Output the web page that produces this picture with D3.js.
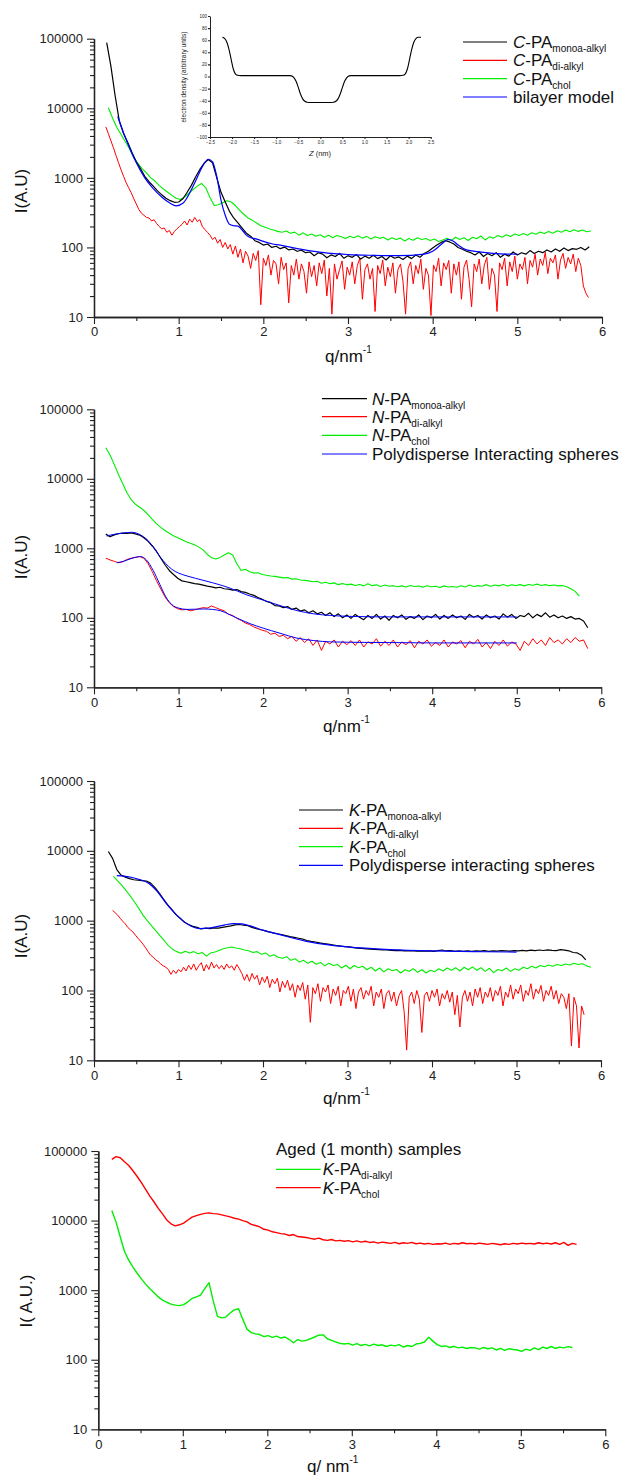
<!DOCTYPE html>
<html>
<head>
<meta charset="utf-8">
<script src="https://cdn.jsdelivr.net/npm/d3@7"></script>
<style>
body { margin: 0; background: #fff; }
text { font-family: "Liberation Sans", Arial, sans-serif; }
</style>
</head>
<body>
<svg id="chart" width="628" height="1477"></svg>
<script>
var qStep = 0.05;
var qStepFine = 0.03;

var yTicks = [10, 100, 1000, 10000, 100000];
var xTicks = [0, 1, 2, 3, 4, 5, 6];
var xMinor = [0.5, 1.5, 2.5, 3.5, 4.5, 5.5];

// ---------- panel 1 : C-PA ----------
var cMonoStart = 0.15;
var cMono = [88000,40000,15000,6500,4300,3200,2300,1700,1350,1050,
  880,760,650,570,510,470,445,450,500,620,
  780,1030,1320,1620,1830,1650,1000,620,450,330,
  265,225,190,160,145,125,118,108,112,100,
  104,96,101,92,95,88,91,84,86,76,
  84,80,71,78,74,82,70,76,72,79,
  68,75,70,77,69,74,66,76,70,73,
  67,75,69,78,72,82,88,98,108,118,
  125,120,112,100,94,88,84,78,86,74,
  82,76,84,72,80,75,86,78,84,80,
  90,82,88,84,92,86,95,88,98,90,
  96,94,100,92,102];
// fine grid (0.03)
var cDiStart = 0.14;
var cDi = [5400,4300,3400,2700,2100,1650,1300,1050,850,720,
  610,500,420,350,310,290,270,265,240,250,
  220,200,185,190,165,175,150,170,185,200,
  215,240,210,255,230,270,235,250,200,180,
  165,150,130,140,115,130,100,118,95,110,
  80,105,72,95,60,88,75,50,82,65,
  90,15,70,55,78,40,65,58,30,72,
  48,60,16,55,40,68,35,58,45,22,
  62,38,55,28,60,42,66,20,50,11,
  58,35,48,64,25,52,40,62,30,55,
  70,18,48,58,35,50,12,55,42,66,
  28,52,38,60,22,48,58,32,11,50,
  62,30,55,42,68,25,50,40,10.5,56,
  45,70,28,60,48,65,22,58,40,62,
  18,52,66,35,14,58,45,68,30,56,
  72,25,50,40,12,60,48,70,28,62,
  45,75,35,58,48,72,30,65,52,80,
  40,68,55,85,42,70,60,78,35,66,
  82,50,72,58,80,45,70,55,28,22,
  19];
var cCholStart = 0.17;
var cChol = [10200,7200,5300,4200,3300,2600,1950,1600,1350,1180,
  1000,900,780,690,620,560,510,490,530,600,
  680,760,830,720,520,400,410,440,470,450,
  400,340,300,265,245,225,205,195,185,178,
  170,165,172,160,166,150,162,148,156,145,
  152,140,150,138,148,142,134,145,138,147,
  136,144,132,142,135,140,128,138,130,136,
  124,134,127,138,130,134,126,132,122,128,
  135,126,140,130,138,126,140,133,146,128,
  142,136,148,140,152,144,156,148,158,150,
  162,155,166,158,170,160,174,165,178,168,
  180,170,178,168,172];
var cBilayer = [[0.28,7600],[0.35,4400],[0.4,3100],[0.5,1650],[0.6,1000],[0.7,700],[0.8,530],
  [0.9,430],[0.97,395],[1.05,430],[1.1,520],[1.2,900],[1.28,1450],[1.35,1850],[1.4,1700],
  [1.45,1050],[1.5,480],[1.55,290],[1.6,215],[1.65,205],[1.7,202],[1.75,178],[1.8,150],
  [1.85,138],[1.9,134],[2.0,122],[2.1,113],[2.2,108],[2.4,96],[2.6,88],[2.8,82],[3.0,79],
  [3.3,77],[3.6,76],[3.9,80],[4.0,88],[4.1,110],[4.18,130],[4.25,122],[4.3,108],[4.4,92],
  [4.6,85],[4.8,81],[5.0,80]];
var p1Labels = [
  {color: "#000", it: "C", sub: "monoa-alkyl"},
  {color: "#ff0000", it: "C", sub: "di-alkyl"},
  {color: "#00ee00", it: "C", sub: "chol"},
  {color: "#0000ff", label: "bilayer model"}];

// inset: electron density profile
var zProfile = [[-2.22,65],[-2.17,63],[-2.12,57],[-2.07,45],[-2.02,28],[-1.97,12],[-1.92,4],
  [-1.87,2],[-1.8,1.5],[-0.7,1.5],[-0.65,1],[-0.6,-2],[-0.55,-8],[-0.5,-18],[-0.45,-29],
  [-0.4,-37],[-0.35,-41],[-0.3,-42.5],[-0.2,-43],[0.2,-43],[0.3,-42.5],[0.35,-41],[0.4,-37],
  [0.45,-29],[0.5,-18],[0.55,-8],[0.6,-2],[0.65,1],[0.7,1.5],[1.8,1.5],[1.87,2],[1.92,4],
  [1.97,12],[2.02,28],[2.07,45],[2.12,57],[2.17,63],[2.22,65],[2.28,65]];
var zTicks = [-2.5,-2,-1.5,-1,-0.5,0,0.5,1,1.5,2,2.5];
var rhoTicks = [-100,-80,-60,-40,-20,0,20,40,60,80,100];

// ---------- panel 2 : N-PA ----------
var nMonoStart = 0.14;
var nMono = [1600,1470,1560,1620,1650,1640,1660,1610,1550,1420,
  1260,1080,900,720,580,480,420,370,340,330,
  320,310,305,295,285,278,270,275,262,258,
  250,255,238,232,220,210,196,185,172,165,
  150,148,140,145,132,138,125,130,118,126,
  114,120,108,118,104,114,100,110,98,112,
  102,94,108,98,112,96,106,92,108,100,
  110,95,104,98,110,94,106,100,112,96,
  108,98,110,100,106,95,112,102,108,96,
  110,100,106,96,114,102,112,98,108,104,
  116,100,112,104,118,102,110,100,106,98,
  104,96,98,90,72];
var nDiStart = 0.14;
var nDi = [720,680,650,620,640,690,720,740,760,720,
  600,460,340,260,200,165,145,135,130,132,
  126,130,135,140,138,148,140,132,126,112,
  108,98,92,84,80,74,70,66,64,58,
  60,54,56,50,54,46,52,44,50,40,
  48,34,46,42,48,38,46,41,47,40,
  48,38,45,42,50,39,46,40,48,38,
  45,41,47,37,46,42,48,39,44,40,
  48,38,45,42,47,37,46,42,49,38,
  44,36,46,40,48,39,45,42,34,46,
  40,50,42,48,40,52,44,48,42,50,
  44,52,46,48,36];
var nCholStart = 0.14;
var nChol = [28000,22000,16000,11500,8500,6300,5000,4300,3900,3500,
  3050,2600,2250,2000,1800,1650,1520,1420,1330,1240,
  1180,1120,1040,950,820,730,700,740,800,860,
  800,600,480,500,460,440,445,420,410,400,
  395,385,375,380,360,365,350,345,340,330,
  335,315,325,310,318,300,312,298,305,292,
  302,288,310,290,298,282,296,285,290,280,
  288,278,292,282,286,276,290,280,284,272,
  288,278,282,275,290,278,296,282,290,285,
  300,284,296,288,302,286,298,292,300,288,
  302,294,305,292,300,290,296,288,292,280,
  262,240,205];
var nFitMono = [[0.15,1500],[0.25,1600],[0.35,1660],[0.45,1700],[0.55,1560],[0.62,1360],
  [0.7,1050],[0.78,760],[0.85,600],[0.92,500],[1.0,440],[1.1,400],[1.2,370],[1.4,320],
  [1.6,270],[1.8,215],[2.0,180],[2.2,150],[2.4,127],[2.6,114],[2.8,108],[3.0,105],
  [3.5,103],[4.0,103],[4.5,103],[5.0,103]];
var nFitDi = [[0.27,620],[0.35,650],[0.45,720],[0.55,760],[0.62,680],[0.7,480],[0.78,300],
  [0.85,200],[0.92,155],[1.0,138],[1.1,132],[1.2,133],[1.3,134],[1.4,132],[1.5,126],
  [1.6,112],[1.7,98],[1.85,82],[2.0,71],[2.2,60],[2.4,51],[2.6,47],[2.8,45],[3.0,44.5],
  [3.5,44],[4.0,43.5],[4.5,43.5],[5.0,43.5]];
var p2Labels = [
  {color: "#000", it: "N", sub: "monoa-alkyl"},
  {color: "#ff0000", it: "N", sub: "di-alkyl"},
  {color: "#00ee00", it: "N", sub: "chol"},
  {color: "#0000ff", label: "Polydisperse Interacting spheres"}];

// ---------- panel 3 : K-PA ----------
var kMonoStart = 0.17;
var kMono = [9800,7800,5400,4500,4200,4000,3850,3800,3750,3700,
  3450,3000,2500,2050,1700,1450,1220,1080,950,880,
  830,800,760,780,770,790,780,800,820,840,
  870,880,860,850,800,770,740,720,690,670,
  650,630,610,590,575,560,545,520,505,495,
  480,470,460,450,440,432,425,420,410,405,
  400,395,392,388,385,382,380,376,372,375,
  370,368,372,366,370,365,370,364,372,380,
  368,372,362,368,364,370,362,368,365,372,
  364,370,366,372,368,365,372,368,376,370,
  378,372,380,374,382,376,372,384,378,370,
  350,345,320,275];
// fine grid (0.03)
var kDiStart = 0.22;
var kDi = [1400,1300,1200,1080,980,900,800,740,690,620,
  560,510,460,410,360,320,300,275,260,240,
  225,215,200,170,195,175,200,185,215,190,
  230,200,240,195,225,250,190,235,200,255,
  210,235,205,228,200,240,210,225,195,235,
  205,175,140,170,135,175,145,165,120,155,
  130,160,110,145,125,150,95,135,110,140,
  100,125,80,120,100,130,75,120,35,110,
  90,125,70,110,95,120,65,105,85,115,
  60,100,90,115,70,105,55,95,110,75,
  100,85,115,60,95,80,105,55,90,100,
  70,95,60,85,100,50,14,80,95,65,
  100,75,25,85,95,70,100,80,105,60,
  90,75,100,68,95,45,85,30,80,100,
  70,95,60,105,80,110,65,95,80,110,
  70,100,85,115,60,95,80,120,75,105,
  90,120,70,100,85,125,75,105,90,118,
  70,100,85,115,75,100,65,90,80,55,
  90,16,80,60,15,60,45];
var kCholStart = 0.23;
var kChol = [4300,3700,3200,2700,2250,1850,1500,1200,1000,850,
  720,610,520,440,390,360,340,365,345,360,
  335,350,310,345,355,375,395,410,420,405,
  395,380,370,350,360,330,345,310,325,300,
  290,305,270,285,255,270,245,262,238,252,
  225,245,228,236,210,230,205,228,212,222,
  198,215,190,210,185,205,192,200,178,198,
  188,205,182,198,178,195,185,205,190,210,
  195,212,190,215,198,218,195,212,188,208,
  180,200,192,210,188,205,195,215,205,222,
  210,228,218,232,222,236,228,240,232,245,
  236,242,225,215];
var kFit = [[0.27,4400],[0.35,4350],[0.45,4150],[0.55,3850],[0.65,3400],[0.75,2600],
  [0.85,1800],[0.95,1300],[1.05,1000],[1.15,830],[1.25,770],[1.35,780],[1.45,820],
  [1.55,870],[1.65,905],[1.75,900],[1.85,840],[2.0,730],[2.2,630],[2.5,510],[2.8,445],
  [3.0,420],[3.5,385],[4.0,368],[4.5,360],[5.0,355]];
var p3Labels = [
  {color: "#000", it: "K", sub: "monoa-alkyl"},
  {color: "#ff0000", it: "K", sub: "di-alkyl"},
  {color: "#00ee00", it: "K", sub: "chol"},
  {color: "#0000ff", label: "Polydisperse interacting spheres"}];

// ---------- panel 4 : aged samples ----------
var agedCholStart = 0.16;
var agedChol = [76000,83000,80000,70000,62000,52000,43000,35000,28000,22500,
  18500,15000,12500,10200,9000,8400,8700,9200,10200,11200,
  11800,12300,12700,12900,12600,12500,12100,11700,11300,10800,
  10500,10000,9600,8800,8500,8100,7500,7300,6900,6700,
  6500,6400,6100,6300,5900,5800,5700,5550,5400,5600,
  5300,5200,5350,5100,5200,5050,5150,4950,5100,4900,
  5050,4850,4950,4750,4900,4800,4700,4850,4650,4800,
  4700,4850,4650,4750,4600,4700,4550,4650,4600,4750,
  4550,4700,4600,4800,4650,4700,4600,4750,4650,4550,
  4700,4600,4500,4650,4550,4700,4600,4750,4650,4700,
  4600,4800,4650,4750,4600,4800,4550,4850,4400,4700,
  4550];
var agedDiStart = 0.16;
var agedDi = [14000,9500,5800,3600,2700,2150,1750,1450,1220,1050,
  920,800,720,670,630,610,600,620,680,760,
  800,850,1050,1280,700,420,400,410,470,520,
  540,380,275,245,235,230,215,222,210,218,
  205,212,195,175,195,185,190,200,212,225,
  228,200,190,180,172,168,172,162,170,160,
  166,158,168,160,164,155,162,158,165,152,
  160,155,168,172,180,210,185,165,155,158,
  150,156,148,152,145,150,148,142,150,144,
  148,138,146,136,144,140,138,132,142,136,
  148,140,152,145,155,146,152,148,154,150];
var p4Title = "Aged (1 month) samples";
var p4Labels = [
  {color: "#00ee00", it: "K", sub: "di-alkyl"},
  {color: "#ff0000", it: "K", sub: "chol"}];

var svg = d3.select("#chart");
svg.append("rect").attr("width", 628).attr("height", 1477).attr("fill", "#fff");

function grid(start, step, vals) {
  return vals.map(function(v, i) { return [start + i * step, v]; });
}

function styleAxis(g, fs) {
  g.attr("font-family", "Liberation Sans, Arial, sans-serif");
  g.select(".domain").attr("stroke", "#222").attr("stroke-width", 1.3);
  g.selectAll(".tick line").attr("stroke", "#222").attr("stroke-width", 1.1);
  g.selectAll(".tick text").attr("font-size", fs).attr("fill", "#222");
}

function panel(cfg) {
  var x = d3.scaleLinear().domain([0, 6]).range([cfg.x0, cfg.x1]);
  var y = d3.scaleLog().domain([10, 100000]).range([cfg.yb, cfg.yt]);
  var g = svg.append("g");

  var yMinor = [];
  [10, 100, 1000, 10000].forEach(function(d) {
    for (var k = 2; k <= 9; k++) yMinor.push(d * k);
  });

  var xa = g.append("g").attr("transform", "translate(0," + cfg.yb + ")")
    .call(d3.axisBottom(x).tickValues(xTicks).tickFormat(d3.format("d")).tickSize(7).tickSizeOuter(0).tickPadding(3));
  styleAxis(xa, 13);
  var xm = g.append("g").attr("transform", "translate(0," + cfg.yb + ")")
    .call(d3.axisBottom(x).tickValues(xMinor).tickSize(4).tickSizeOuter(0).tickFormat(""));
  styleAxis(xm, 13);

  var ya = g.append("g").attr("transform", "translate(" + cfg.x0 + ",0)")
    .call(d3.axisLeft(y).tickValues(yTicks).tickFormat(d3.format("d")).tickSize(7).tickSizeOuter(0).tickPadding(4));
  styleAxis(ya, 13);
  var ym = g.append("g").attr("transform", "translate(" + cfg.x0 + ",0)")
    .call(d3.axisLeft(y).tickValues(yMinor).tickFormat("").tickSize(4).tickSizeOuter(0));
  styleAxis(ym, 13);

  var raw = d3.line().x(function(d) { return x(d[0]); }).y(function(d) { return y(d[1]); });
  var smooth = d3.line().x(function(d) { return x(d[0]); }).y(function(d) { return y(d[1]); })
    .curve(d3.curveMonotoneX);

  cfg.series.forEach(function(s) {
    g.append("path").datum(s.pts).attr("fill", "none").attr("stroke", s.color)
      .attr("stroke-width", s.w || 1).attr("stroke-linejoin", "round")
      .attr("d", s.fit ? smooth : raw);
  });

  // axis titles
  g.append("text").attr("transform", "translate(" + cfg.ytx + "," + cfg.yty + ") rotate(-90)")
    .attr("text-anchor", "middle").attr("font-size", 17).attr("fill", "#111").text(cfg.ytitle);
  var xt = g.append("text").attr("x", cfg.xtx).attr("y", cfg.xty).attr("font-size", 17).attr("fill", "#111");
  xt.append("tspan").text(cfg.xtitle);
  xt.append("tspan").attr("font-size", 10).attr("dy", -9).text("-1");
  return {x: x, y: y, g: g};
}

function legend(items, lx0, lx1, tx, ys) {
  items.forEach(function(d, i) {
    svg.append("line").attr("x1", lx0).attr("x2", lx1).attr("y1", ys[i]).attr("y2", ys[i])
      .attr("stroke", d.color).attr("stroke-width", 1.2);
    var t = svg.append("text").attr("x", tx).attr("y", ys[i] + 6).attr("font-size", 17).attr("fill", "#111");
    if (d.it) {
      t.append("tspan").attr("font-style", "italic").text(d.it);
      t.append("tspan").text("-PA");
      t.append("tspan").attr("font-size", 10).attr("dy", 4).text(d.sub);
    } else {
      t.text(d.label);
    }
  });
}

// panel 1
panel({
  x0: 94, x1: 602, yt: 38.7, yb: 317,
  ytx: 27, yty: 191, ytitle: "I(A.U)", xtx: 325, xty: 362, xtitle: "q/nm",
  series: [
    {pts: grid(cDiStart, qStepFine, cDi), color: "#ff0000", w: 1},
    {pts: grid(cCholStart, qStep, cChol), color: "#00ee00", w: 1.1},
    {pts: grid(cMonoStart, qStep, cMono), color: "#000", w: 1.2},
    {pts: cBilayer, color: "#0000ff", w: 1.2, fit: true}
  ]
});
legend(p1Labels, 463, 507, 513, [42, 60.3, 78.7, 97]);

// inset
(function() {
  var ix = d3.scaleLinear().domain([-2.5, 2.5]).range([210, 430.7]);
  var iy = d3.scaleLinear().domain([-100, 100]).range([137, 16]);
  var g = svg.append("g");
  var xa = g.append("g").attr("transform", "translate(0,137)")
    .call(d3.axisBottom(ix).tickValues(zTicks).tickFormat(d3.format(".1f")).tickSize(2).tickPadding(1.5).tickSizeOuter(0));
  styleAxis(xa, 4.5);
  var ya = g.append("g").attr("transform", "translate(210,0)")
    .call(d3.axisLeft(iy).tickValues(rhoTicks).tickFormat(d3.format("d")).tickSize(2).tickPadding(1).tickSizeOuter(0));
  styleAxis(ya, 4.5);
  g.selectAll(".domain").attr("stroke-width", 1);
  g.append("path").datum(zProfile).attr("fill", "none").attr("stroke", "#000").attr("stroke-width", 1.1)
    .attr("d", d3.line().x(function(d) { return ix(d[0]); }).y(function(d) { return iy(d[1]); }).curve(d3.curveMonotoneX));
  g.append("text").attr("transform", "translate(186,77) rotate(-90)").attr("text-anchor", "middle")
    .attr("font-size", 6.5).attr("fill", "#222").text("electron density (arbitrary units)");
  var zt = g.append("text").attr("x", 320).attr("y", 156).attr("text-anchor", "middle")
    .attr("font-size", 7.5).attr("fill", "#222");
  zt.append("tspan").attr("font-style", "italic").text("Z");
  zt.append("tspan").text(" (nm)");
})();

// panel 2
panel({
  x0: 94, x1: 601.3, yt: 409.3, yb: 687.3,
  ytx: 27, yty: 557, ytitle: "I(A.U)", xtx: 323, xty: 732, xtitle: "q/nm",
  series: [
    {pts: grid(nCholStart, qStep, nChol), color: "#00ee00", w: 1.1},
    {pts: grid(nMonoStart, qStep, nMono), color: "#000", w: 1.2},
    {pts: grid(nDiStart, qStep, nDi), color: "#ff0000", w: 1},
    {pts: nFitMono, color: "#0000ff", w: 1, fit: true},
    {pts: nFitDi, color: "#0000ff", w: 1, fit: true}
  ]
});
legend(p2Labels, 322, 367, 372, [398.7, 416.7, 435.3, 454]);

// panel 3
panel({
  x0: 94, x1: 601, yt: 781, yb: 1060.3,
  ytx: 27, yty: 936, ytitle: "I(A.U)", xtx: 323, xty: 1104, xtitle: "q/nm",
  series: [
    {pts: grid(kDiStart, qStepFine, kDi), color: "#ff0000", w: 1},
    {pts: grid(kCholStart, qStep, kChol), color: "#00ee00", w: 1.1},
    {pts: grid(kMonoStart, qStep, kMono), color: "#000", w: 1.2},
    {pts: kFit, color: "#0000ff", w: 1.2, fit: true}
  ]
});
legend(p3Labels, 299, 343, 349, [810, 828.3, 846.7, 865.3]);

// panel 4
panel({
  x0: 98.3, x1: 605.3, yt: 1151, yb: 1429.3,
  ytx: 32, yty: 1301, ytitle: "I( A.U.)", xtx: 307, xty: 1472, xtitle: "q/ nm",
  series: [
    {pts: grid(agedCholStart, qStep, agedChol), color: "#ff0000", w: 1.4},
    {pts: grid(agedDiStart, qStep, agedDi), color: "#00ee00", w: 1.4}
  ]
});
svg.append("text").attr("x", 276).attr("y", 1155).attr("font-size", 17).attr("fill", "#111").text(p4Title);
legend(p4Labels, 276, 320.7, 322.7, [1169.3, 1187.7]);
</script>
</body>
</html>
